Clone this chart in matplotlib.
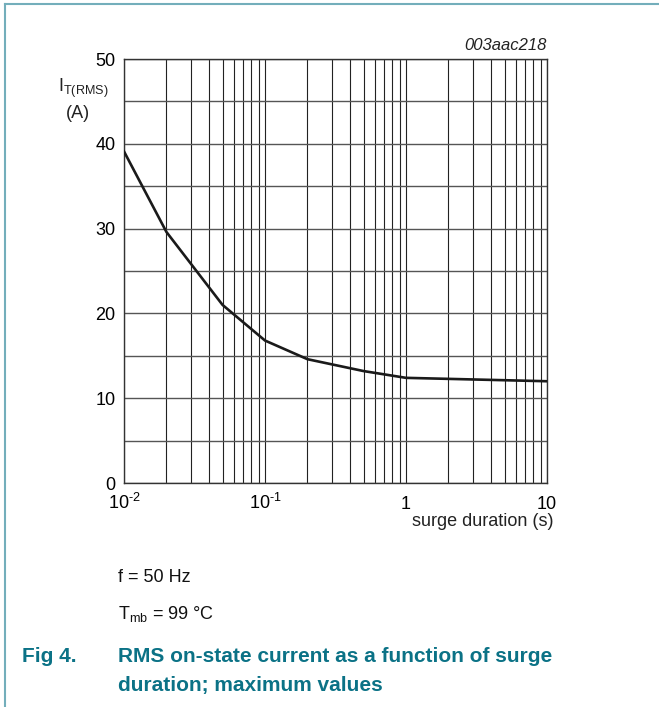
import matplotlib
matplotlib.use("Agg")
import matplotlib.pyplot as plt
from matplotlib.lines import Line2D
from matplotlib.ticker import LogLocator, NullFormatter, FixedLocator

plt.rcParams["font.family"] = ["Liberation Sans", "DejaVu Sans"]
plt.rcParams["mathtext.fontset"] = "custom"
plt.rcParams["mathtext.rm"] = "Liberation Sans"
plt.rcParams["mathtext.it"] = "Liberation Sans:italic"

# curve
duration = [0.01, 0.02, 0.05, 0.1, 0.2, 0.5, 1, 10]
current = [39.1, 29.6, 21.0, 16.8, 14.6, 13.2, 12.4, 12.0]

x_ticks = [0.01, 0.1, 1, 10]
x_labels = ["10$^{\\mathregular{\u2010 2}}$", "10$^{\\mathregular{\u2010 1}}$", "1", "10"]
y_ticks = [0, 10, 20, 30, 40, 50]

TEAL = "#0b7286"
BORDER = "#73aebb"

fig = plt.figure(figsize=(6.59, 7.07), dpi=100)
ax = fig.add_axes([124 / 659, 1 - 483 / 707, 423 / 659, 424 / 707])

ax.plot(duration, current, color="#1a1a1a", lw=1.9, solid_joinstyle="miter", zorder=3)
ax.set_xscale("log")
ax.set_xlim(0.01, 10)
ax.set_ylim(0, 50)

ax.xaxis.set_major_locator(FixedLocator(x_ticks))
ax.set_xticklabels(x_labels)
ax.xaxis.set_minor_locator(LogLocator(base=10, subs=range(2, 10)))
ax.xaxis.set_minor_formatter(NullFormatter())
ax.set_yticks(y_ticks)
ax.set_yticks(range(5, 50, 10), minor=True)

ax.grid(True, which="both", axis="x", color="#222222", lw=0.8)
ax.grid(True, which="both", axis="y", color="#555555", lw=1.0)
ax.tick_params(which="both", length=0, labelsize=13)
ax.tick_params(axis="x", pad=19)
ax.tick_params(axis="y", pad=6)
for lbl in ax.get_xticklabels():
    lbl.set_va("baseline")
for s in ax.spines.values():
    s.set_color("#333333")
    s.set_linewidth(1.0)

ax.text(1.0, 1.015, "003aac218", transform=ax.transAxes, ha="right", va="bottom",
        fontsize=12, style="italic", color="#222222")
fig.text(83 / 659, 1 - 88 / 707, "I$_{\\mathregular{T(RMS)}}$", ha="center", va="center",
         fontsize=13, color="#222222")
fig.text(78 / 659, 1 - 113 / 707, "(A)", ha="center", va="center", fontsize=13, color="#222222")
fig.text(554 / 659, 1 - 522 / 707, "surge duration (s)", ha="right", va="center",
         fontsize=13, color="#222222")

fig.text(118 / 659, 1 - 578 / 707, "f = 50 Hz", ha="left", va="center", fontsize=13, color="#111111")
fig.text(118 / 659, 1 - 614 / 707, "T$_{\\mathregular{mb}}$ = 99 \u00b0C", ha="left", va="center",
         fontsize=13, color="#111111")
fig.text(22 / 659, 1 - 656 / 707, "Fig 4.", ha="left", va="center", fontsize=15,
         fontweight="bold", color=TEAL)
fig.text(118 / 659, 1 - 656 / 707, "RMS on-state current as a function of surge", ha="left",
         va="center", fontsize=15, fontweight="bold", color=TEAL)
fig.text(118 / 659, 1 - 685 / 707, "duration; maximum values", ha="left", va="center",
         fontsize=15, fontweight="bold", color=TEAL)

# frame lines at left and top edges
fig.add_artist(Line2D([5 / 659, 5 / 659], [0, 1 - 4 / 707], transform=fig.transFigure,
                      color=BORDER, lw=1.5))
fig.add_artist(Line2D([5 / 659, 1], [1 - 4 / 707, 1 - 4 / 707], transform=fig.transFigure,
                      color=BORDER, lw=1.5))

fig.savefig("out.png", dpi=100)
